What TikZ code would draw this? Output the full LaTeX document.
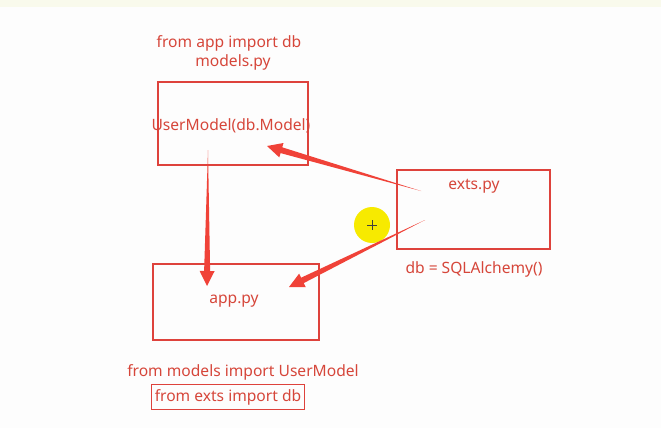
\documentclass[tikz,border=0pt]{standalone}
\usepackage{fontspec}
\setmainfont{Noto Sans}
\usetikzlibrary{calc}

\definecolor{boxred}{RGB}{222,66,60}
\definecolor{textred}{RGB}{214,70,58}
\definecolor{arrowred}{RGB}{240,66,56}
\definecolor{paper}{RGB}{253,253,253}
\definecolor{topband}{RGB}{249,250,236}
\definecolor{spot}{RGB}{247,234,0}

\tikzset{
  filebox/.style={draw=boxred, line width=2.2pt, minimum width=#1, inner sep=0pt},
  label/.style={text=textred, font=\fontsize{15.6}{18}\selectfont, inner sep=0pt},
  framedlabel/.style={label, draw=boxred, line width=1.5pt, inner xsep=3.5pt, inner ysep=4.5pt},
  arrowfill/.style={fill=arrowred},
}

% tapered arrow from #1 (thin tail) to #2 (tip)
\newcommand\taperarrow[2]{%
  \coordinate (hb) at ($(#2)!15pt!(#1)$);
  \fill[arrowfill] (#1)
    -- ($(hb)!3pt!90:(#2)$) -- ($(hb)!7.5pt!90:(#2)$)
    -- (#2)
    -- ($(hb)!7.5pt!-90:(#2)$) -- ($(hb)!3pt!-90:(#2)$) -- cycle;
}

\begin{document}
\begin{tikzpicture}[x=1pt, y=-1pt]
  % page
  \fill[paper] (0,0) rectangle (661,428);
  \fill[topband] (0,0) rectangle (661,7);
  \useasboundingbox (0,0) rectangle (661,428);

  % file boxes
  \node[filebox=150pt, minimum height=83pt] (models) at (233,123.5) {};
  \node[filebox=153pt, minimum height=79pt] (exts) at (473.5,209.5) {};
  \node[filebox=166pt, minimum height=76pt] (app) at (236,302) {};

  % texts
  \node[label] (imp1) at (229,43) {from app import db};
  \node[label] (mname) at (233,62) {models.py};
  \node[label] (umodel) at (231,126) {UserModel(db.Model)};
  \node[label] (ename) at (474,186) {exts.py};
  \node[label] (dbdef) at (474,269) {db = SQLAlchemy()};
  \node[label] (aname) at (234,301) {app.py};
  \node[label] (imp2) at (243,372) {from models import UserModel};
  \node[framedlabel] (imp3) at (228,397) {from exts import db};

  % pointer highlight
  \fill[spot] (372,225) circle (18);
  \coordinate (cur) at (372,225);
  \draw[black!75, line width=0.8pt] ($(cur)+(-5,0)$) -- ($(cur)+(5,0)$)
                                    ($(cur)+(0,-5)$) -- ($(cur)+(0,5)$);

  % arrows
  \coordinate (m0) at (208,150);
  \coordinate (m1) at (207,286);
  \coordinate (e0) at (421,191);
  \coordinate (e1) at (267,146);
  \coordinate (f0) at (425,220);
  \coordinate (f1) at (289,287);
  \taperarrow{m0}{m1}
  \taperarrow{e0}{e1}
  \taperarrow{f0}{f1}
\end{tikzpicture}
\end{document}
